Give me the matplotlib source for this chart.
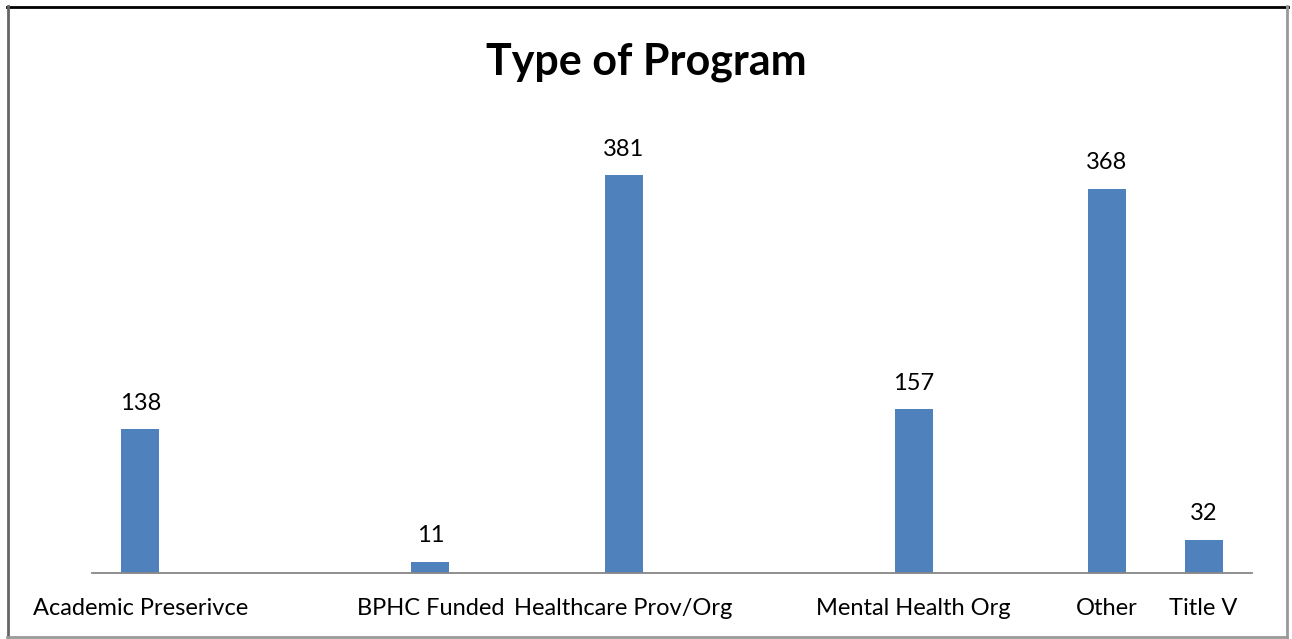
import numpy as np
import matplotlib.pyplot as plt
from matplotlib.lines import Line2D

# categories (blank slots are empty categories in the source chart)
categories = ["Academic Preserivce", "", "", "BPHC Funded", "", "Healthcare Prov/Org",
              "", "", "Mental Health Org", "", "Other", "Title V"]
counts = [138, None, None, 11, None, 381, None, None, 157, None, 368, 32]

bar_color = "#4F81BD"
font = ["Lato", "DejaVu Sans"]

fig = plt.figure(figsize=(12.92, 6.39), dpi=100)
ax = fig.add_axes([92 / 1292, 1 - 573 / 639, 1160 / 1292, (573 - 155.2) / 639])

x = np.arange(len(categories))
vals = np.array([np.nan if v is None else v for v in counts], dtype=float)
bars = ax.bar(x, np.nan_to_num(vals), width=0.39, color=bar_color, zorder=2)

for xi, v in zip(x, vals):
    if np.isnan(v):
        continue
    ax.annotate(f"{int(v)}", (xi, v), xytext=(0, 18.5), textcoords="offset points",
                ha="center", va="center", fontsize=17, family=font, annotation_clip=False)

ax.set_xlim(-0.5, len(categories) - 0.5)
ax.set_ylim(0, 400)
ax.set_xticks(x)
ax.set_xticklabels(categories, fontsize=17, family=font)
ax.tick_params(axis="x", length=0, pad=18)
ax.set_yticks([])
for side in ["top", "right", "left"]:
    ax.spines[side].set_visible(False)
ax.spines["bottom"].set_color("#868686")
ax.spines["bottom"].set_linewidth(1.3)

fig.text(0.5, 1 - 62 / 639, "Type of Program", ha="center", va="center",
         fontsize=31, fontweight="bold", family=font)

# outer frame
W, H = 1292, 639
def fx(p): return p / W
def fy(p): return 1 - p / H
fig.add_artist(Line2D([fx(7), fx(1288)], [fy(6.5), fy(6.5)], color="black", lw=2))
fig.add_artist(Line2D([fx(7.5), fx(7.5)], [fy(6), fy(637)], color="#666666", lw=2))
fig.add_artist(Line2D([fx(1286.5), fx(1286.5)], [fy(6), fy(637)], color="#999999", lw=2))
fig.add_artist(Line2D([fx(7), fx(1287)], [fy(637), fy(637)], color="#999999", lw=2))

fig.savefig("out.png", dpi=100)
